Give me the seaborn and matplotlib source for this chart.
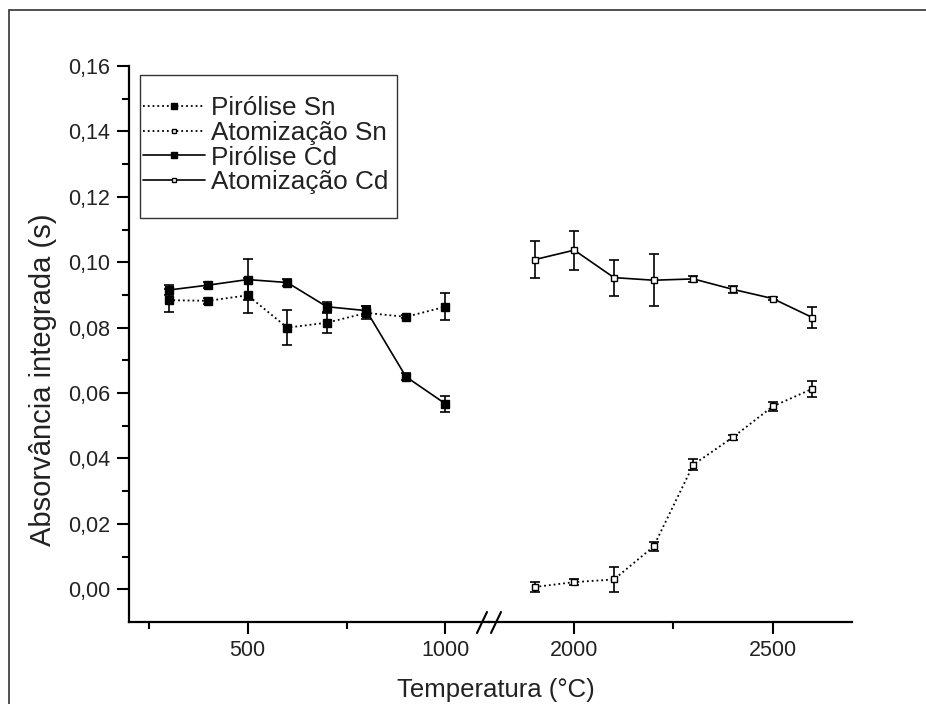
import matplotlib
matplotlib.use("Agg")
import matplotlib.pyplot as plt
from matplotlib import font_manager as fm
from matplotlib.lines import Line2D
from matplotlib.patches import Rectangle
from matplotlib.ticker import FixedLocator, FixedFormatter
import seaborn as sns

# Pyrolysis curves (left segment of the broken temperature axis)
pyro_temp = [300, 400, 500, 600, 700, 800, 900, 1000]
pyro_sn = [0.0884, 0.0882, 0.0899, 0.0800, 0.0815, 0.0845, 0.0833, 0.0864]
pyro_sn_err = [0.0035, 0.0010, 0.0054, 0.0054, 0.0030, 0.0020, 0.0005, 0.0042]
pyro_cd = [0.0915, 0.0930, 0.0947, 0.0938, 0.0864, 0.0852, 0.0650, 0.0567]
pyro_cd_err = [0.0015, 0.0010, 0.0063, 0.0010, 0.0015, 0.0015, 0.0010, 0.0025]

# Atomization curves (right segment)
atom_temp = [1900, 2000, 2100, 2200, 2300, 2400, 2500, 2600]
atom_sn = [0.0007, 0.0022, 0.0030, 0.0131, 0.0381, 0.0465, 0.0559, 0.0613]
atom_sn_err = [0.0015, 0.0008, 0.0038, 0.0015, 0.0017, 0.0008, 0.0015, 0.0025]
atom_cd = [0.1008, 0.1037, 0.0953, 0.0945, 0.0949, 0.0917, 0.0889, 0.0831]
atom_cd_err = [0.0057, 0.0060, 0.0055, 0.0080, 0.0010, 0.0010, 0.0005, 0.0033]

series_labels = ["Pirólise Sn", "Atomização Sn", "Pirólise Cd", "Atomização Cd"]

y_ticks = [0.00, 0.02, 0.04, 0.06, 0.08, 0.10, 0.12, 0.14, 0.16]
y_ticklabels = ["0,00", "0,02", "0,04", "0,06", "0,08", "0,10", "0,12", "0,14", "0,16"]
y_minor = [0.01, 0.03, 0.05, 0.07, 0.09, 0.11, 0.13, 0.15]
left_ticks, left_labels, left_minor = [500, 1000], ["500", "1000"], [250, 750]
right_ticks, right_labels, right_minor = [2000, 2500], ["2000", "2500"], [2250]

sns.set_theme(style="ticks")
plt.rcParams["font.family"] = ["Liberation Sans", "DejaVu Sans"]
TXT = "#222222"

# Condensed face for the temperature tick labels when it is available
try:
    fm.findfont(fm.FontProperties(family="Liberation Sans Narrow"),
                fallback_to_default=False)
    xtick_font = dict(fontfamily="Liberation Sans Narrow", fontsize=17.5)
except ValueError:
    xtick_font = dict(fontfamily="Liberation Sans", fontsize=15.5)

W, H = 926, 704
fig = plt.figure(figsize=(W / 100, H / 100), dpi=100, facecolor="white")

x0, xb, x1 = 129, 489, 852
yb, yt = 622, 66
ax1 = fig.add_axes([x0 / W, 1 - yb / H, (xb - x0) / W, (yb - yt) / H])
ax2 = fig.add_axes([xb / W, 1 - yb / H, (x1 - xb) / W, (yb - yt) / H], sharey=ax1)
for ax in (ax1, ax2):
    ax.set_facecolor("none")


def draw(ax, x, y, err, ls, face, label):
    ax.errorbar(x, y, yerr=err, fmt="none", ecolor="black", elinewidth=1.2,
                capsize=3.6, capthick=1.2, zorder=2)
    sns.lineplot(x=x, y=y, ax=ax, color="black", linestyle=ls,
                 linewidth=1.2 if ls == "-" else 1.3, marker="s",
                 markersize=5.5 if face == "black" else 4.6,
                 markerfacecolor=face, markeredgecolor="black",
                 markeredgewidth=1.0, label=label, legend=False, zorder=3)
    return ax.get_lines()[-1]


h_psn = draw(ax1, pyro_temp, pyro_sn, pyro_sn_err, ":", "black", series_labels[0])
h_pcd = draw(ax1, pyro_temp, pyro_cd, pyro_cd_err, "-", "black", series_labels[2])
h_asn = draw(ax2, atom_temp, atom_sn, atom_sn_err, ":", "white", series_labels[1])
h_acd = draw(ax2, atom_temp, atom_cd, atom_cd_err, "-", "white", series_labels[3])

ax1.set_xlim(200, 1110)
ax2.set_xlim(1785, 2700)
ax1.set_ylim(-0.01, 0.16)

ax1.yaxis.set_major_locator(FixedLocator(y_ticks))
ax1.yaxis.set_major_formatter(FixedFormatter(y_ticklabels))
ax1.yaxis.set_minor_locator(FixedLocator(y_minor))
ax1.set_xticks(left_ticks, left_labels, color=TXT, **xtick_font)
ax1.xaxis.set_minor_locator(FixedLocator(left_minor))
ax2.set_xticks(right_ticks, right_labels, color=TXT, **xtick_font)
ax2.xaxis.set_minor_locator(FixedLocator(right_minor))

for ax in (ax1, ax2):
    ax.spines["top"].set_visible(False)
    ax.spines["right"].set_visible(False)
    ax.spines["bottom"].set_linewidth(1.6)
    ax.spines["bottom"].set_color("black")
    ax.tick_params(axis="x", which="major", direction="out", length=8.5, width=1.5,
                   color="black", pad=4.5)
    ax.tick_params(axis="x", which="minor", direction="out", length=5, width=1.5,
                   color="black")
    ax.set_xlabel("")
    ax.set_ylabel("")
    ax.grid(False)

ax1.spines["left"].set_linewidth(1.6)
ax1.spines["left"].set_color("black")
ax1.tick_params(axis="y", which="major", direction="out", length=8.5, width=1.5,
                color="black", labelsize=15.5, pad=5, labelcolor=TXT)
ax1.tick_params(axis="y", which="minor", direction="out", length=5, width=1.5,
                color="black")
ax2.spines["left"].set_visible(False)
ax2.tick_params(axis="y", which="both", left=False, labelleft=False)

ax1.set_ylabel("Absorvância integrada (s)", fontsize=21, color=TXT)
ax1.yaxis.set_label_coords(-0.2, (yb - 380) / (yb - yt))
fig.text(((x0 + x1) / 2 + 5) / W, 1 - 690 / H, "Temperatura (°C)", fontsize=18.5,
         color=TXT, ha="center", va="center")

# Axis break marks
for bx in (482, 496):
    fig.add_artist(Line2D([(bx - 5) / W, (bx + 5) / W],
                          [1 - 633 / H, 1 - 612 / H],
                          color="black", linewidth=1.5))

# Legend entries without their own frame; the box is drawn separately
leg = fig.legend([h_psn, h_asn, h_pcd, h_acd], series_labels,
                 loc="upper left", bbox_to_anchor=(143 / W, 1 - 96 / H),
                 fontsize=18.8, frameon=False, handlelength=2.37,
                 handletextpad=0.23, labelspacing=0.03, borderpad=0,
                 borderaxespad=0, markerscale=0.7)
for t in leg.get_texts():
    t.set_color(TXT)
fig.add_artist(Rectangle((140 / W, 1 - 218 / H), (397 - 140) / W, (218 - 75) / H,
                         fill=True, facecolor="white", edgecolor="#333333",
                         linewidth=1.0, transform=fig.transFigure, zorder=4))
leg.set_zorder(5)

# Outer frame of the figure
fig.add_artist(Rectangle((9 / W, -0.5), 2.0, 0.5 + 1 - 10 / H, fill=False,
                         edgecolor="#333333", linewidth=1.2,
                         transform=fig.transFigure))

fig.savefig("out.png", dpi=100, facecolor="white")
